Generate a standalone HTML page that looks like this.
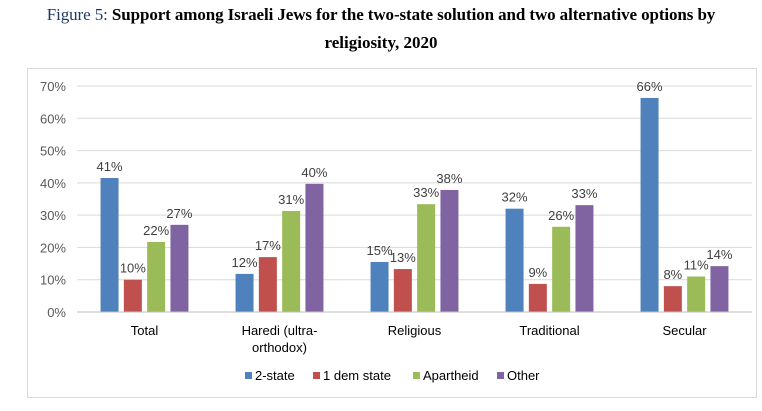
<!DOCTYPE html>
<html><head><meta charset="utf-8"><style>
body{margin:0;background:#fff;width:762px;height:411px;overflow:hidden}
.t{position:absolute;left:0;width:762px;text-align:center;font-family:"Liberation Serif",serif;font-size:17px;font-weight:bold;color:#000}
</style></head><body>
<div class="t" style="top:5px;letter-spacing:-0.1px"><span style="font-weight:normal;color:#1f3864">Figure 5:</span> Support among Israeli Jews for the two-state solution and two alternative options by</div>
<div class="t" style="top:33px">religiosity, 2020</div>
<svg id="c" width="762" height="411" style="position:absolute;left:0;top:0"></svg>
<script>
const categories=[["Total"],["Haredi (ultra-","orthodox)"],["Religious"],["Traditional"],["Secular"]];
const seriesNames=["2-state","1 dem state","Apartheid","Other"];
const colors=["#4f81bd","#c0504d","#9bbb59","#8064a2"];
const s2state=[41.5,11.8,15.5,32,66.3];
const s1dem=[10,17,13.3,8.7,8];
const sApartheid=[21.7,31.3,33.4,26.4,11];
const sOther=[27,39.7,37.8,33.1,14.2];
const labels2state=["41%","12%","15%","32%","66%"];
const labels1dem=["10%","17%","13%","9%","8%"];
const labelsApartheid=["22%","31%","33%","26%","11%"];
const labelsOther=["27%","40%","38%","33%","14%"];
const yTicks=[0,10,20,30,40,50,60,70];
const series=[s2state,s1dem,sApartheid,sOther];
const slabels=[labels2state,labels1dem,labelsApartheid,labelsOther];
const svg=document.getElementById('c');const NS="http://www.w3.org/2000/svg";
function mk(t,a,txt){const e=document.createElementNS(NS,t);for(const k in a)e.setAttribute(k,a[k]);if(txt!==undefined)e.textContent=txt;svg.appendChild(e);return e;}
const y0=312,yTop=86,x0=77,x1=752;
const y=v=>y0-(v/70)*(y0-yTop);
const bandW=(x1-x0)/categories.length;
const cx=i=>x0+bandW*(i+0.5);
const F='"Liberation Sans",sans-serif';
let e=mk('rect',{x:27.5,y:68.5,width:729,height:329,fill:'none',stroke:'#d9d9d9'});


yTicks.forEach(t=>{
 let l=mk('line',{x1:x0,x2:x1,y1:y(t),y2:y(t),stroke:'#d9d9d9'});
 
 
 let tx=mk('text',{x:66,y:y(t)+5,'text-anchor':'end','font-family':F,'font-size':13,fill:'#595959'},t+'%');
 
 
});
const bw=18,step=23.3;
categories.forEach((c,i)=>{
 series.forEach((s,j)=>{
  const bx=cx(i)+(j-1.5)*step-bw/2;
  let r=mk('rect',{x:bx,y:y(s[i]),width:bw,height:y0-y(s[i]),fill:colors[j]});
  
  
  let lt=mk('text',{x:bx+bw/2,y:y(s[i])-7,'text-anchor':'middle','font-family':F,'font-size':13,fill:'#404040'},slabels[j][i]);
  
  
 });
 c.forEach((ln,k)=>{
  let t=mk('text',{x:cx(i),y:335+k*17,'text-anchor':'middle','font-family':F,'font-size':13,fill:'#000'},ln);
  
  
 });
});
let ax=mk('line',{x1:x0,x2:x1,y1:y0,y2:y0,stroke:'#bfbfbf'});


const legX=[245,313,413,497];
seriesNames.forEach((n,j)=>{
 let r=mk('rect',{x:legX[j],y:372,width:7,height:7,fill:colors[j]});
 
 
 let t=mk('text',{x:legX[j]+10,y:380,'font-family':F,'font-size':13,fill:'#000'},n);
 
 
});
</script>
</body></html>
